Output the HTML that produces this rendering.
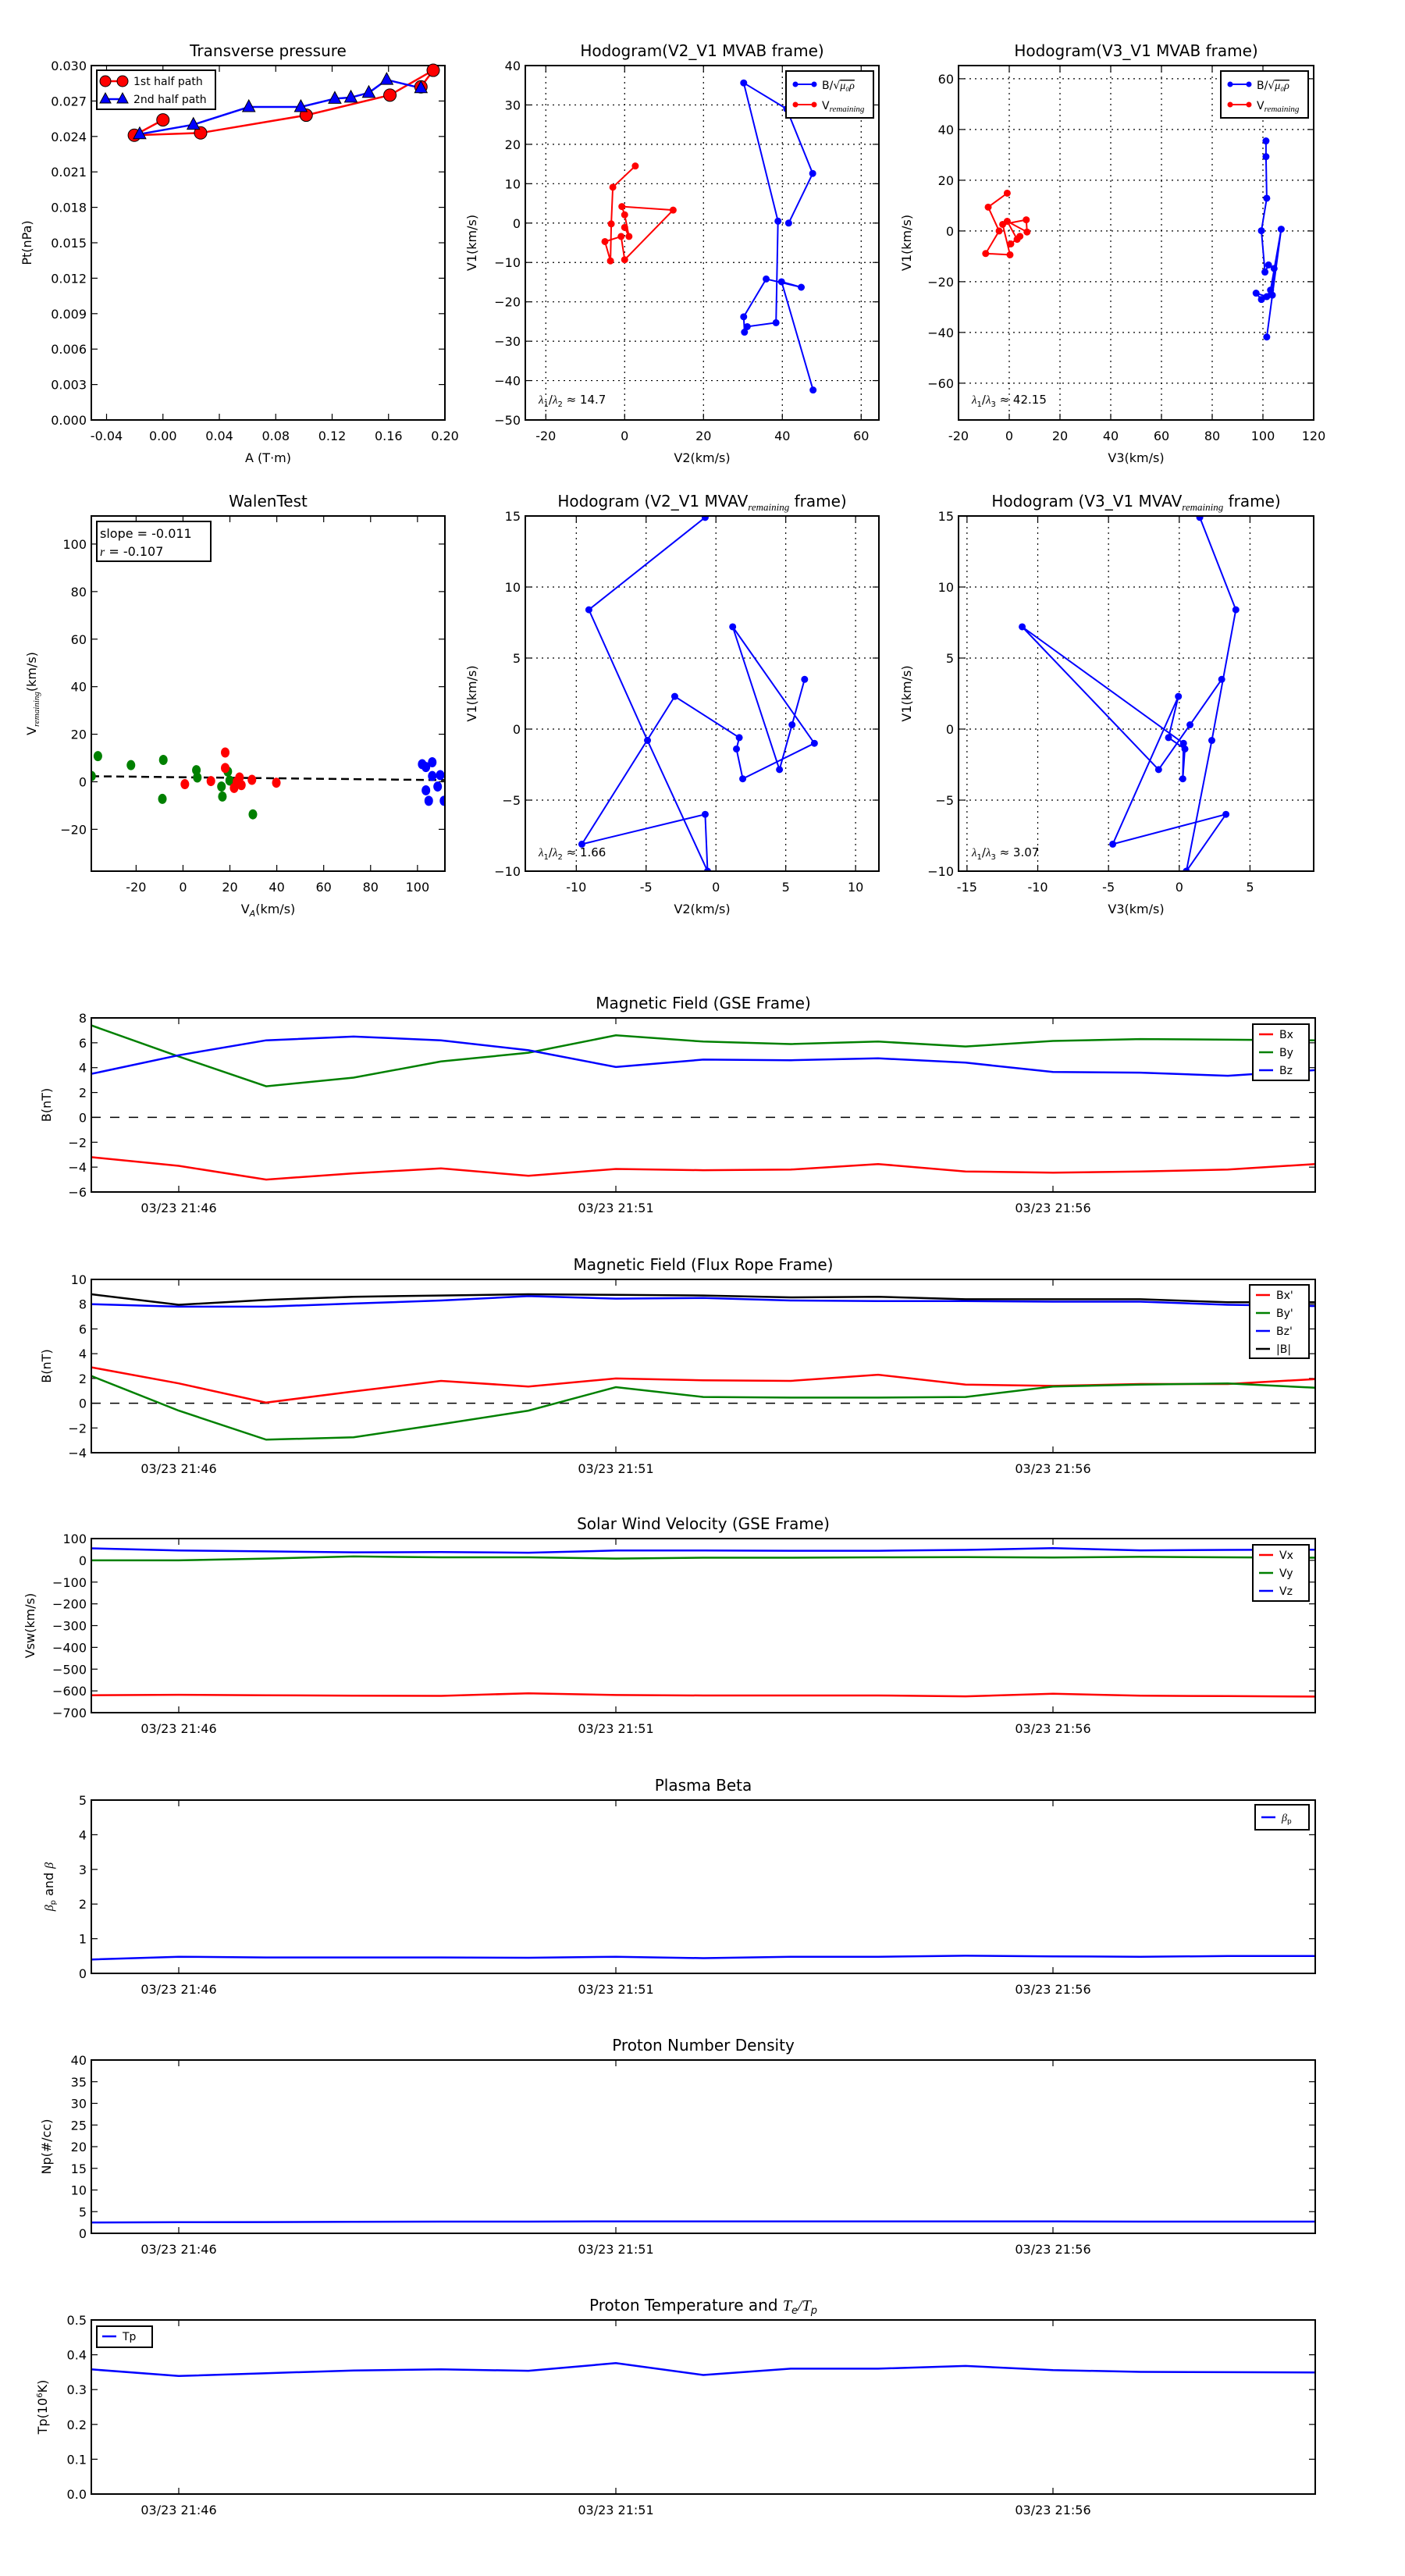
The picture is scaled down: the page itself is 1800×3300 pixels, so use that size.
<!DOCTYPE html>
<html><head><meta charset="utf-8">
<style>
html,body{margin:0;padding:0;background:#fff;}
svg{display:block;font-family:"DejaVu Sans","Liberation Sans",sans-serif;}
</style></head>
<body>
<svg id="fig" xmlns="http://www.w3.org/2000/svg" width="1800" height="3300" viewBox="0 0 1800 3300"></svg>
<script>
// ---------- data ----------
const ptRedA = [0.000,-0.0203,0.0267,0.1016,0.161,0.1917,0.183];
const ptRedP = [0.0254,0.0241,0.0243,0.0258,0.0275,0.0296,0.0282];
const ptBlueA = [-0.0165,0.0216,0.0609,0.0978,0.1219,0.1333,0.146,0.1587,0.183];
const ptBlueP = [0.0242,0.0250,0.0265,0.0265,0.0272,0.0273,0.0277,0.0288,0.0281];

const h2BlueV2 = [47.8,39.8,44.8,35.9,30.2,30.4,31.1,38.4,38.9,30.2,41.1,47.7,41.6];
const h2BlueV1 = [-42.4,-14.9,-16.3,-14.2,-23.8,-27.7,-26.3,-25.3,0.5,35.6,29.0,12.6,0.0];
const h2RedV2 = [2.7,-3.0,-3.4,-3.6,-5.0,-0.9,0.0,12.3,-0.7,0.0,1.1,0.0];
const h2RedV1 = [14.5,9.1,-0.2,-9.6,-4.7,-3.4,-9.3,3.3,4.2,2.1,-3.4,-1.1];

const h3BlueV3 = [101.2,101.2,101.5,99.4,100.8,102.2,104.4,103.7,99.4,97.3,101.5,103.0,107.2,101.5];
const h3BlueV1 = [35.5,29.3,12.9,0.1,-16.2,-13.4,-14.8,-25.3,-27.0,-24.5,-25.9,-23.3,0.7,-41.8];
const h3RedV3 = [-0.8,-8.3,-4.0,-9.3,0.3,-2.6,6.7,7.0,-0.8,3.1,4.2,0.6];
const h3RedV1 = [14.9,9.4,0.0,-8.9,-9.4,2.6,4.4,-0.4,3.8,-3.3,-2.1,-5.1];

const walGreenX = [-36.3,-22.2,-8.4,-8.8,5.7,6.1,16.4,16.8,19.1,19.9,29.8,-39.0];
const walGreenY = [10.8,7.0,9.2,-7.2,4.9,1.8,-2.0,-6.2,4.3,0.5,-13.7,2.4];
const walRedX = [18.0,18.0,0.8,11.9,21.8,24.9,24.1,29.4,39.8,23.0];
const walRedY = [12.3,5.8,-1.0,0.3,-2.6,-1.4,1.8,0.8,-0.4,0.0];
const walBlueX = [102.0,106.3,103.6,106.3,109.7,103.6,104.8,108.6,111.3];
const walBlueY = [7.4,8.2,6.2,2.4,2.8,-3.6,-8.0,-2.0,-8.0];
const walSlope = -0.011;
const walIntercept = 1.9;

const mvV1 = [14.9,8.4,-0.8,-10,-6.0,-8.1,2.3,-0.6,-1.4,-3.5,-1.0,7.2,-2.85,0.3,3.5];
const mvV2 = [-0.77,-9.1,-4.9,-0.6,-0.77,-9.6,-2.95,1.67,1.47,1.92,7.05,1.2,4.55,5.45,6.35];
const mvV3 = [1.45,4.0,2.3,0.5,3.3,-4.7,-0.06,-0.76,0.4,0.25,0.3,-11.1,-1.46,0.76,3.0];

const timeTickIdx = [1,6,11];
const timeTickLabels = ["03/23 21:46","03/23 21:51","03/23 21:56"];

const gseBx = [-3.2,-3.9,-5.0,-4.5,-4.1,-4.7,-4.15,-4.25,-4.2,-3.75,-4.35,-4.45,-4.35,-4.2,-3.75];
const gseBy = [7.4,4.9,2.5,3.2,4.5,5.2,6.6,6.1,5.9,6.1,5.7,6.15,6.3,6.25,6.2];
const gseBz = [3.5,5.0,6.2,6.5,6.2,5.4,4.05,4.65,4.6,4.75,4.4,3.65,3.6,3.35,3.8];

const frBx = [2.9,1.6,0.05,0.95,1.8,1.35,2.0,1.85,1.8,2.3,1.5,1.4,1.55,1.55,1.95];
const frBy = [2.2,-0.6,-2.95,-2.75,-1.7,-0.6,1.3,0.5,0.45,0.45,0.5,1.35,1.5,1.6,1.25];
const frBz = [8.0,7.8,7.8,8.05,8.3,8.65,8.45,8.5,8.3,8.25,8.25,8.2,8.2,7.95,7.85];
const frBt = [8.8,7.95,8.35,8.6,8.7,8.8,8.75,8.7,8.55,8.6,8.4,8.4,8.4,8.15,8.15];

const velVx = [-620,-618,-620,-622,-623,-611,-619,-621,-621,-621,-625,-613,-622,-624,-626];
const velVy = [0,0,8,18,14,14,8,12,12,14,15,13,16,14,12];
const velVz = [55,45,41,37,38,35,45,45,44,44,48,56,46,48,49];

const betaP = [0.4,0.48,0.46,0.46,0.46,0.45,0.48,0.44,0.48,0.48,0.51,0.49,0.48,0.5,0.5];
const densNp = [2.5,2.55,2.6,2.65,2.7,2.7,2.75,2.75,2.75,2.75,2.75,2.75,2.7,2.7,2.7];
const tempTp = [0.358,0.339,0.347,0.355,0.358,0.354,0.376,0.342,0.36,0.36,0.368,0.356,0.351,0.35,0.349];

// ---------- helpers ----------
const NS = "http://www.w3.org/2000/svg";
const svg = document.getElementById('fig');
let clipId = 0;
function mk(tag, attrs, parent){
  const e = document.createElementNS(NS, tag);
  for (const k in attrs) e.setAttribute(k, attrs[k]);
  (parent || svg).appendChild(e);
  return e;
}
function range(a,b,s){const r=[];for(let v=a;v<=b+1e-9;v+=s)r.push(Math.round(v*1e6)/1e6);return r;}

function makeAxes(o){
  const g = mk('g', {});
  
  
  const sx = v => o.x0 + (v - o.xlim[0]) / (o.xlim[1] - o.xlim[0]) * (o.x1 - o.x0);
  const sy = v => o.y1 - (v - o.ylim[0]) / (o.ylim[1] - o.ylim[0]) * (o.y1 - o.y0);
  const id = 'clip' + (clipId++);
  const cp = mk('clipPath', {id: id}, g);
  mk('rect', {x:o.x0, y:o.y0, width:o.x1-o.x0, height:o.y1-o.y0}, cp);
  // grid
  if (o.grid){
    o.xticks.forEach(v => {
      const l = mk('line', {x1:sx(v), x2:sx(v), y1:o.y0, y2:o.y1, stroke:'#000', 'stroke-width':1.2, 'stroke-dasharray':'2,5'}, g);
      
      
    });
    o.yticks.forEach(v => {
      const l = mk('line', {x1:o.x0, x2:o.x1, y1:sy(v), y2:sy(v), stroke:'#000', 'stroke-width':1.2, 'stroke-dasharray':'2,5'}, g);
      
      
    });
  }
  // ticks + labels
  o.xticks.forEach((v,i) => {
    const x = sx(v);
    mk('line', {x1:x, x2:x, y1:o.y1, y2:o.y1-8, stroke:'#000', 'stroke-width':1.2}, g);
    mk('line', {x1:x, x2:x, y1:o.y0, y2:o.y0+8, stroke:'#000', 'stroke-width':1.2}, g);
    const t = mk('text', {x:x, y:o.y1+26, 'font-size':16, 'text-anchor':'middle'}, g);
    t.textContent = o.xlabels ? o.xlabels[i] : o.fx(v);
    
    
  });
  o.yticks.forEach(v => {
    const y = sy(v);
    mk('line', {x1:o.x0, x2:o.x0+8, y1:y, y2:y, stroke:'#000', 'stroke-width':1.2}, g);
    mk('line', {x1:o.x1, x2:o.x1-8, y1:y, y2:y, stroke:'#000', 'stroke-width':1.2}, g);
    const t = mk('text', {x:o.x0-6, y:y+6, 'font-size':16, 'text-anchor':'end'}, g);
    t.textContent = o.fy(v).replace('-', '\u2212');
    
    
  });
  // title
  const tt = mk('text', {x:(o.x0+o.x1)/2, y:o.y0-12, 'font-size':20, 'text-anchor':'middle'}, g);
  tt.innerHTML = o.title;
  
  
  if (o.xtitle){
    const xt = mk('text', {x:(o.x0+o.x1)/2, y:o.y1+54, 'font-size':16, 'text-anchor':'middle'}, g);
    xt.innerHTML = o.xtitle;
    
    
  }
  const yt = mk('text', {x:0, y:0, 'font-size':16, 'text-anchor':'middle', transform:'translate('+o.ylx+','+((o.y0+o.y1)/2)+') rotate(-90)'}, g);
  yt.innerHTML = o.ytitle;
  
  
  const data = mk('g', {'clip-path':'url(#'+id+')'}, g);
  
  
  const frame = mk('rect', {x:o.x0, y:o.y0, width:o.x1-o.x0, height:o.y1-o.y0, fill:'none', stroke:'#000', 'stroke-width':2}, g);
  
  
  return {sx, sy, g, data};
}
function pathOf(ax, xs, ys){
  return xs.map((x,i)=>(i?'L':'M')+ax.sx(x).toFixed(1)+','+ax.sy(ys[i]).toFixed(1)).join(' ');
}
function legendBox(ax, x0, y0, x1, y1, name){
  const r = mk('rect', {x:x0, y:y0, width:x1-x0, height:y1-y0, fill:'#fff', stroke:'#000', 'stroke-width':2}, ax.g);
  
  
}
function legendEntry(ax, x, y, color, label, name){
  const l = mk('line', {x1:x, x2:x+18, y1:y, y2:y, stroke:color, 'stroke-width':2.5}, ax.g);
  
  
  const t = mk('text', {x:x+26, y:y+5, 'font-size':14}, ax.g);
  t.innerHTML = label;
  
  
}
const f3 = v => v.toFixed(3);
const f2 = v => v.toFixed(2);
const f1 = v => v.toFixed(1);
const f0 = v => String(Math.round(v));

// ---------- Transverse pressure ----------
const ax1 = makeAxes({name:'transverse-pressure-chart', x0:117,y0:84,x1:570,y1:538, xlim:[-0.0508,0.2], ylim:[0,0.030],
  xticks:range(-0.04,0.2,0.04), yticks:range(0,0.030,0.003), fx:f2, fy:f3,
  title:'Transverse pressure', xtitle:'A (T·m)', ytitle:'Pt(nPa)', ylx:40});
{
  const p = mk('path', {d:pathOf(ax1, ptRedA, ptRedP), fill:'none', stroke:'#f00', 'stroke-width':2.5}, ax1.data);
  
  
  ptRedA.forEach((a,i)=>{
    const c = mk('circle', {cx:ax1.sx(a), cy:ax1.sy(ptRedP[i]), r:8, fill:'#f00', stroke:'#000', 'stroke-width':1}, ax1.g);
    
    
  });
  const q = mk('path', {d:pathOf(ax1, ptBlueA, ptBlueP), fill:'none', stroke:'#00f', 'stroke-width':2.5}, ax1.data);
  
  
  ptBlueA.forEach((a,i)=>{
    const x = ax1.sx(a), y = ax1.sy(ptBlueP[i]);
    const t = mk('polygon', {points:(x)+','+(y-9)+' '+(x-8)+','+(y+6)+' '+(x+8)+','+(y+6), fill:'#00f', stroke:'#000', 'stroke-width':1}, ax1.g);
    
    
  });
  legendBox(ax1, 124, 90, 276, 140, 'legend');
  mk('line', {x1:135,x2:157,y1:104,y2:104,stroke:'#f00','stroke-width':2.5}, ax1.g);
  mk('circle', {cx:135,cy:104,r:7,fill:'#f00',stroke:'#000'}, ax1.g);
  mk('circle', {cx:157,cy:104,r:7,fill:'#f00',stroke:'#000'}, ax1.g);
  mk('line', {x1:135,x2:157,y1:127,y2:127,stroke:'#00f','stroke-width':2.5}, ax1.g);
  mk('polygon', {points:'135,119 128,132 142,132',fill:'#00f',stroke:'#000'}, ax1.g);
  mk('polygon', {points:'157,119 150,132 164,132',fill:'#00f',stroke:'#000'}, ax1.g);
  const l1 = mk('text', {x:171,y:109,'font-size':14}, ax1.g);
  l1.textContent = '1st half path';
  
  
  const l2 = mk('text', {x:171,y:132,'font-size':14}, ax1.g);
  l2.textContent = '2nd half path';
  
  
}

// hodogram helper
function hodoSeries(ax, xs, ys, color, name){
  const p = mk('path', {d:pathOf(ax, xs, ys), fill:'none', stroke:color, 'stroke-width':2}, ax.data);
  
  
  xs.forEach((x,i)=>{
    const c = mk('circle', {cx:ax.sx(x), cy:ax.sy(ys[i]), r:4, fill:color, stroke:color}, ax.data);
    
    
  });
}
function mvabLegend(ax, x0, y0){
  legendBox(ax, x0, y0, x0+112, y0+60, 'legend');
  mk('line', {x1:x0+12,x2:x0+36,y1:y0+17,y2:y0+17,stroke:'#00f','stroke-width':2}, ax.g);
  mk('circle', {cx:x0+12,cy:y0+17,r:3.5,fill:'#00f'}, ax.g);
  mk('circle', {cx:x0+36,cy:y0+17,r:3.5,fill:'#00f'}, ax.g);
  mk('line', {x1:x0+12,x2:x0+36,y1:y0+43,y2:y0+43,stroke:'#f00','stroke-width':2}, ax.g);
  mk('circle', {cx:x0+12,cy:y0+43,r:3.5,fill:'#f00'}, ax.g);
  mk('circle', {cx:x0+36,cy:y0+43,r:3.5,fill:'#f00'}, ax.g);
  const a = mk('text', {x:x0+46,y:y0+23,'font-size':14}, ax.g);
  a.innerHTML = 'B/√<tspan font-style="italic" font-family="Liberation Serif, serif" text-decoration="overline">μ₀ρ</tspan>';
  
  
  const b = mk('text', {x:x0+46,y:y0+49,'font-size':14}, ax.g);
  b.innerHTML = 'V<tspan font-size="11" font-style="italic" font-family="Liberation Serif, serif" dy="3">remaining</tspan>';
  
  
}
function ratioText(ax, x, y, sub, val){
  const t = mk('text', {x:x, y:y, 'font-size':15}, ax.g);
  t.innerHTML = '<tspan font-style="italic" font-family="Liberation Serif, serif">λ</tspan><tspan font-size="10" dy="4">1</tspan><tspan dy="-4">/</tspan><tspan font-style="italic" font-family="Liberation Serif, serif">λ</tspan><tspan font-size="10" dy="4">'+sub+'</tspan><tspan dy="-4"> ≈ '+val+'</tspan>';
  
  
}

// ---------- Hodogram V2_V1 MVAB ----------
const ax2 = makeAxes({name:'hodogram-v2-v1-mvab', x0:673,y0:84,x1:1126,y1:538, xlim:[-25.2,64.5], ylim:[-50,40],
  xticks:range(-20,60,20), yticks:range(-50,40,10), fx:f0, fy:f0, grid:true,
  title:'Hodogram(V2_V1 MVAB frame)', xtitle:'V2(km/s)', ytitle:'V1(km/s)', ylx:610});
hodoSeries(ax2, h2BlueV2, h2BlueV1, '#00f', 'b-alfven');
hodoSeries(ax2, h2RedV2, h2RedV1, '#f00', 'v-remaining');
mvabLegend(ax2, 1007, 91);
ratioText(ax2, 690, 517, '2', '14.7');

// ---------- Hodogram V3_V1 MVAB ----------
const ax3 = makeAxes({name:'hodogram-v3-v1-mvab', x0:1228,y0:84,x1:1683,y1:538, xlim:[-20,120], ylim:[-74.5,65.2],
  xticks:range(-20,120,20), yticks:range(-60,60,20), fx:f0, fy:f0, grid:true,
  title:'Hodogram(V3_V1 MVAB frame)', xtitle:'V3(km/s)', ytitle:'V1(km/s)', ylx:1167});
hodoSeries(ax3, h3BlueV3, h3BlueV1, '#00f', 'b-alfven');
hodoSeries(ax3, h3RedV3, h3RedV1, '#f00', 'v-remaining');
mvabLegend(ax3, 1564, 91);
ratioText(ax3, 1245, 517, '3', '42.15');

// ---------- Walen test ----------
const ax4 = makeAxes({name:'walen-test-chart', x0:117,y0:661,x1:570,y1:1116, xlim:[-39.1,111.7], ylim:[-37.6,111.8],
  xticks:range(-20,100,20), yticks:range(-20,100,20), fx:f0, fy:f0,
  title:'WalenTest', xtitle:'V<tspan font-size="11" font-style="italic" dy="4">A</tspan><tspan dy="-4">(km/s)</tspan>',
  ytitle:'V<tspan font-size="11" font-style="italic" font-family="Liberation Serif, serif" dy="4">remaining</tspan><tspan dy="-4">(km/s)</tspan>', ylx:46});
{
  const fx = [-39.1, 111.7];
  const fl = mk('path', {d:pathOf(ax4, fx, fx.map(x=>walSlope*x+walIntercept)), stroke:'#000', 'stroke-width':2.5, 'stroke-dasharray':'10,6', fill:'none'}, ax4.data);
  
  
  [[walGreenX,walGreenY,'#008000','green'],[walRedX,walRedY,'#f00','red'],[walBlueX,walBlueY,'#00f','blue']].forEach(s=>{
    s[0].forEach((x,i)=>{
      const c = mk('ellipse', {cx:ax4.sx(x), cy:ax4.sy(s[1][i]), rx:5.5, ry:6.5, fill:s[2]}, ax4.data);
      
      
    });
  });
  legendBox(ax4, 124, 668, 270, 719, 'stats-box');
  const s1 = mk('text', {x:128,y:689,'font-size':16}, ax4.g);
  s1.textContent = 'slope = -0.011';
  
  
  const s2 = mk('text', {x:128,y:712,'font-size':16}, ax4.g);
  s2.innerHTML = '<tspan font-style="italic" font-family="Liberation Serif, serif">r</tspan> = -0.107';
  
  
}

// ---------- Hodogram MVAV ----------
const ax5 = makeAxes({name:'hodogram-v2-v1-mvav', x0:673,y0:661,x1:1126,y1:1116, xlim:[-13.65,11.67], ylim:[-10,15],
  xticks:range(-10,10,5), yticks:range(-10,15,5), fx:f0, fy:f0, grid:true,
  title:'Hodogram (V2_V1 MVAV<tspan font-size="13" font-style="italic" font-family="Liberation Serif, serif" dy="5">remaining</tspan><tspan dy="-5"> frame)</tspan>', xtitle:'V2(km/s)', ytitle:'V1(km/s)', ylx:610});
hodoSeries(ax5, mvV2, mvV1, '#00f', 'mvav-v2');
ratioText(ax5, 690, 1097, '2', '1.66');

const ax6 = makeAxes({name:'hodogram-v3-v1-mvav', x0:1228,y0:661,x1:1683,y1:1116, xlim:[-15.6,9.5], ylim:[-10,15],
  xticks:range(-15,5,5), yticks:range(-10,15,5), fx:f0, fy:f0, grid:true,
  title:'Hodogram (V3_V1 MVAV<tspan font-size="13" font-style="italic" font-family="Liberation Serif, serif" dy="5">remaining</tspan><tspan dy="-5"> frame)</tspan>', xtitle:'V3(km/s)', ytitle:'V1(km/s)', ylx:1167});
hodoSeries(ax6, mvV3, mvV1, '#00f', 'mvav-v3');
ratioText(ax6, 1245, 1097, '3', '3.07');

// ---------- time series ----------
function timeAxes(name, y0, y1, ylim, yticks, fy, title, ytitle, ylx){
  return makeAxes({name:name, x0:117,y0:y0,x1:1685,y1:y1, xlim:[0,14], ylim:ylim,
    xticks:timeTickIdx, xlabels:timeTickLabels, yticks:yticks, fx:f0, fy:fy,
    title:title, ytitle:ytitle, ylx:ylx});
}
function tsLine(ax, ys, color, name){
  const p = mk('path', {d:pathOf(ax, ys.map((_,i)=>i), ys), fill:'none', stroke:color, 'stroke-width':2.5}, ax.data);
  
  
}
function zeroLine(ax){
  const z = mk('line', {x1:117,x2:1685,y1:ax.sy(0),y2:ax.sy(0),stroke:'#000','stroke-width':1.5,'stroke-dasharray':'12,12'}, ax.data);
  
  
}

const a7 = timeAxes('magnetic-field-gse-chart', 1304, 1527, [-6,8], range(-6,8,2), f0, 'Magnetic Field (GSE Frame)', 'B(nT)', 65);
zeroLine(a7);
tsLine(a7, gseBx, '#f00', 'bx-line');
tsLine(a7, gseBy, '#008000', 'by-line');
tsLine(a7, gseBz, '#00f', 'bz-line');
legendBox(a7, 1605, 1312, 1677, 1384, 'legend');
legendEntry(a7, 1613, 1325, '#f00', 'Bx', 'legend-entry-bx');
legendEntry(a7, 1613, 1348, '#008000', 'By', 'legend-entry-by');
legendEntry(a7, 1613, 1371, '#00f', 'Bz', 'legend-entry-bz');

const a8 = timeAxes('magnetic-field-flux-rope-chart', 1639, 1861, [-4,10], range(-4,10,2), f0, 'Magnetic Field (Flux Rope Frame)', 'B(nT)', 65);
zeroLine(a8);
tsLine(a8, frBx, '#f00', 'bx-prime-line');
tsLine(a8, frBy, '#008000', 'by-prime-line');
tsLine(a8, frBz, '#00f', 'bz-prime-line');
tsLine(a8, frBt, '#000', 'b-magnitude-line');
legendBox(a8, 1601, 1646, 1677, 1740, 'legend');
legendEntry(a8, 1609, 1659, '#f00', "Bx'", 'legend-entry-bx-prime');
legendEntry(a8, 1609, 1682, '#008000', "By'", 'legend-entry-by-prime');
legendEntry(a8, 1609, 1705, '#00f', "Bz'", 'legend-entry-bz-prime');
legendEntry(a8, 1609, 1728, '#000', '|B|', 'legend-entry-b-magnitude');

const a9 = timeAxes('solar-wind-velocity-chart', 1971, 2194, [-700,100], range(-700,100,100), f0, 'Solar Wind Velocity (GSE Frame)', 'Vsw(km/s)', 44);
tsLine(a9, velVx, '#f00', 'vx-line');
tsLine(a9, velVy, '#008000', 'vy-line');
tsLine(a9, velVz, '#00f', 'vz-line');
legendBox(a9, 1605, 1979, 1677, 2051, 'legend');
legendEntry(a9, 1613, 1992, '#f00', 'Vx', 'legend-entry-vx');
legendEntry(a9, 1613, 2015, '#008000', 'Vy', 'legend-entry-vy');
legendEntry(a9, 1613, 2038, '#00f', 'Vz', 'legend-entry-vz');

const a10 = timeAxes('plasma-beta-chart', 2306, 2528, [0,5], range(0,5,1), f0, 'Plasma Beta',
  '<tspan font-style="italic" font-family="Liberation Serif, serif">β</tspan><tspan font-size="10" dy="3">p</tspan><tspan dy="-3"> and </tspan><tspan font-style="italic" font-family="Liberation Serif, serif">β</tspan>', 68);
tsLine(a10, betaP, '#00f', 'beta-p-line');
legendBox(a10, 1608, 2312, 1677, 2344, 'legend');
legendEntry(a10, 1616, 2328, '#00f', '<tspan font-style="italic" font-family="Liberation Serif, serif">β</tspan><tspan font-size="9" dy="3">p</tspan>', 'legend-entry-beta-p');

const a11 = timeAxes('proton-density-chart', 2639, 2861, [0,40], range(0,40,5), f0, 'Proton Number Density', 'Np(#/cc)', 65);
tsLine(a11, densNp, '#00f', 'np-line');

const a12 = timeAxes('proton-temperature-chart', 2972, 3195, [0,0.5], range(0,0.5,0.1), f1,
  'Proton Temperature and <tspan font-style="italic" font-family="Liberation Serif, serif">T</tspan><tspan font-size="13" font-style="italic" dy="4">e</tspan><tspan dy="-4" font-style="italic" font-family="Liberation Serif, serif">/T</tspan><tspan font-size="13" font-style="italic" dy="4">p</tspan>',
  'Tp(10<tspan font-size="10" dy="-6">6</tspan><tspan dy="6">K)</tspan>', 60);
tsLine(a12, tempTp, '#00f', 'tp-line');
legendBox(a12, 124, 2980, 195, 3007, 'legend');
legendEntry(a12, 131, 2993, '#00f', 'Tp', 'legend-entry-tp');
</script>
</body></html>
